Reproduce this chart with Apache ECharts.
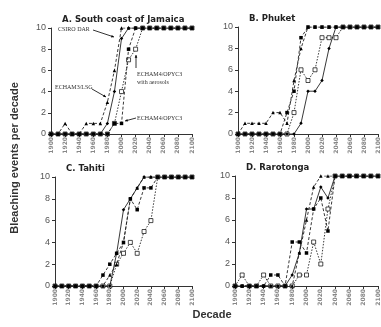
<!DOCTYPE html>
<html lang="en">
<head>
	<meta charset="UTF-8">
	<title>Bleaching events per decade</title>
	<script src="https://cdn.jsdelivr.net/npm/echarts@6/dist/echarts.min.js"></script>
	<style>
		html, body { margin: 0; padding: 0; background: #fff; }
	</style>
</head>
<body>
	<div id="main" style="width: 381px;height: 327px"></div>
	<script>
		// decades on the x axis
		var decades = [1900,1910,1920,1930,1940,1950,1960,1970,1980,1990,2000,2010,2020,2030,2040,2050,2060,2070,2080,2090,2100];
		var xTicks = [1900,1920,1940,1960,1980,2000,2020,2040,2060,2080,2100];
		var yTicks = [0,2,4,6,8,10];

		var panelTitles = ['A. South coast of Jamaica', 'B. Phuket', 'C. Tahiti', 'D. Rarotonga'];

		// A. Jamaica
		var jamCsiro   = [0,0,0,0,0,0,0,0,1,4,9,10,10,10,10,10,10,10,10,10,10];
		var jamLsg     = [0,0,1,0,0,1,1,1,3,6,10,10,10,10,10,10,10,10,10,10,10];
		var jamOpyc    = [0,0,0,0,0,0,0,0,0,1,1,8,10,10,10,10,10,10,10,10,10];
		var jamAero    = [0,0,0,0,0,0,0,0,0,1,4,7,8,10,10,10,10,10,10,10,10];

		// B. Phuket
		var phuCsiro   = [0,0,0,0,0,0,0,0,0,1,4,4,5,8,10,10,10,10,10,10,10];
		var phuLsg     = [0,1,1,1,1,2,2,1,5,8,10,10,10,10,10,10,10,10,10,10,10];
		var phuOpyc    = [0,0,0,0,0,0,0,2,4,9,10,10,10,10,10,10,10,10,10,10,10];
		var phuAero    = [0,0,0,0,0,0,0,0,2,6,5,6,9,9,9,10,10,10,10,10,10];

		// C. Tahiti
		var tahCsiro   = [0,0,0,0,0,0,0,0,0,3,7,8,9,10,10,10,10,10,10,10,10];
		var tahLsg     = [0,0,0,0,0,0,0,0,1,2,4,8,9,10,10,10,10,10,10,10,10];
		var tahOpyc    = [0,0,0,0,0,0,0,1,2,3,4,8,7,9,9,10,10,10,10,10,10];
		var tahAero    = [0,0,0,0,0,0,0,0,0,2,3,4,3,5,6,10,10,10,10,10,10];

		// D. Rarotonga
		var rarCsiro   = [0,0,0,0,0,0,0,0,1,3,7,7,9,8,10,10,10,10,10,10,10];
		var rarLsg     = [0,0,0,0,0,0,0,0,0,3,6,9,10,10,10,10,10,10,10,10,10];
		var rarOpyc    = [0,0,0,0,0,1,1,0,4,4,3,7,8,5,10,10,10,10,10,10,10];
		var rarAero    = [0,1,0,0,1,0,0,0,0,1,1,4,2,7,10,10,10,10,10,10,10];

		var panels = [
			[jamCsiro, jamLsg, jamOpyc, jamAero],
			[phuCsiro, phuLsg, phuOpyc, phuAero],
			[tahCsiro, tahLsg, tahOpyc, tahAero],
			[rarCsiro, rarLsg, rarOpyc, rarAero]
		];

		var grids = [
			{left: 51, top: 28, width: 141, height: 106},
			{left: 238, top: 27, width: 142, height: 107},
			{left: 55, top: 177, width: 137, height: 109},
			{left: 235, top: 176, width: 143, height: 110}
		];

		// open squares sit underneath so the filled markers show on the flat stretches
		var styles = [
			{name: 'CSIRO DAR', type: 'solid', symbol: 'diamond', size: 3.5, fill: '#000', z: 4},
			{name: 'ECHAM3/LSG', type: [3, 2], symbol: 'triangle', size: 3.5, fill: '#000', z: 3},
			{name: 'ECHAM4/OPYC3', type: [3, 2], symbol: 'rect', size: 3.5, fill: '#000', z: 5},
			{name: 'ECHAM4/OPYC3 with aerosols', type: [1.5, 1.5], symbol: 'rect', size: 4, fill: '#fff', z: 2}
		];

		var xAxes = [], yAxes = [], series = [], titles = [];
		grids.forEach(function(g, i) {
			xAxes.push({
				gridIndex: i, type: 'value', min: 1900, max: 2100, interval: 20,
				axisLine: {lineStyle: {color: '#333', width: 1}},
				axisTick: {length: 3, lineStyle: {color: '#333'}},
				splitLine: {show: false},
				axisLabel: {rotate: 90, fontSize: 6, color: '#888', margin: 3,
					fontFamily: 'DejaVu Sans', fontWeight: 'bold',
					formatter: function(v) { return String(v); }}
			});
			yAxes.push({
				gridIndex: i, type: 'value', min: 0, max: 10, interval: 2,
				axisLine: {show: true, lineStyle: {color: '#333', width: 1}},
				axisTick: {show: true, length: 3, lineStyle: {color: '#333'}},
				splitLine: {show: false},
				axisLabel: {fontSize: 9, color: '#555', margin: 5, fontFamily: 'Liberation Sans'}
			});
			panels[i].forEach(function(vals, k) {
				var s = styles[k];
				series.push({
					name: s.name, type: 'line', xAxisIndex: i, yAxisIndex: i,
					data: decades.map(function(d, j) { return [d, vals[j]]; }),
					symbol: s.symbol, symbolSize: s.size, showSymbol: true,
					lineStyle: {color: '#222', width: 0.9, type: s.type},
					itemStyle: {color: s.fill, borderColor: '#000', borderWidth: s.fill === '#fff' ? 0.7 : 0},
					z: s.z, silent: true, animation: false
				});
			});
			titles.push({
				text: panelTitles[i], left: g.left + 6, top: g.top - 18,
				textStyle: {fontSize: 8.5, fontWeight: 'bold',
					fontFamily: 'DejaVu Sans', color: '#222'}
			});
		});

		var note = {fontSize: 6, fill: '#333', fontFamily: 'Liberation Serif'};
		var arrowLine = {stroke: '#000', lineWidth: 0.8};
		function arrow(x1, y1, x2, y2) {
			var ang = Math.atan2(y2 - y1, x2 - x1), h = 3;
			return [
				{type: 'line', shape: {x1: x1, y1: y1, x2: x2, y2: y2}, style: arrowLine},
				{type: 'polygon', shape: {points: [
					[x2, y2],
					[x2 - h * Math.cos(ang - 0.45), y2 - h * Math.sin(ang - 0.45)],
					[x2 - h * Math.cos(ang + 0.45), y2 - h * Math.sin(ang + 0.45)]
				]}, style: {fill: '#000'}}
			];
		}

		var graphics = [
			{type: 'text', rotation: Math.PI / 2, x: 15, y: 158,
				style: {text: 'Bleaching events per decade', fontSize: 11, fontWeight: 'bold',
					fontFamily: 'Liberation Sans', fill: '#333', align: 'center', verticalAlign: 'middle'}},
			{type: 'text', x: 212, y: 315,
				style: {text: 'Decade', fontSize: 11, fontWeight: 'bold', fontFamily: 'Liberation Sans',
					fill: '#333', align: 'center', verticalAlign: 'middle'}},
			{type: 'text', x: 58, y: 26, style: Object.assign({text: 'CSIRO DAR'}, note)},
			{type: 'text', x: 55, y: 84, style: Object.assign({text: 'ECHAM3/LSG'}, note)},
			{type: 'text', x: 137, y: 115, style: Object.assign({text: 'ECHAM4/OPYC3'}, note)},
			{type: 'text', x: 137, y: 70, style: Object.assign({text: 'ECHAM4/OPYC3\nwith aerosols', lineHeight: 8}, note)}
		];
		graphics = graphics.concat(arrow(93, 30, 114, 37), arrow(92, 89, 106, 97),
			arrow(136, 118, 125, 121), arrow(136, 68, 136, 55));

		var myChart = echarts.init(document.getElementById('main'));
		myChart.setOption({
			animation: false,
			title: titles,
			grid: grids,
			xAxis: xAxes,
			yAxis: yAxes,
			series: series,
			graphic: graphics
		});
	</script>
</body>
</html>
